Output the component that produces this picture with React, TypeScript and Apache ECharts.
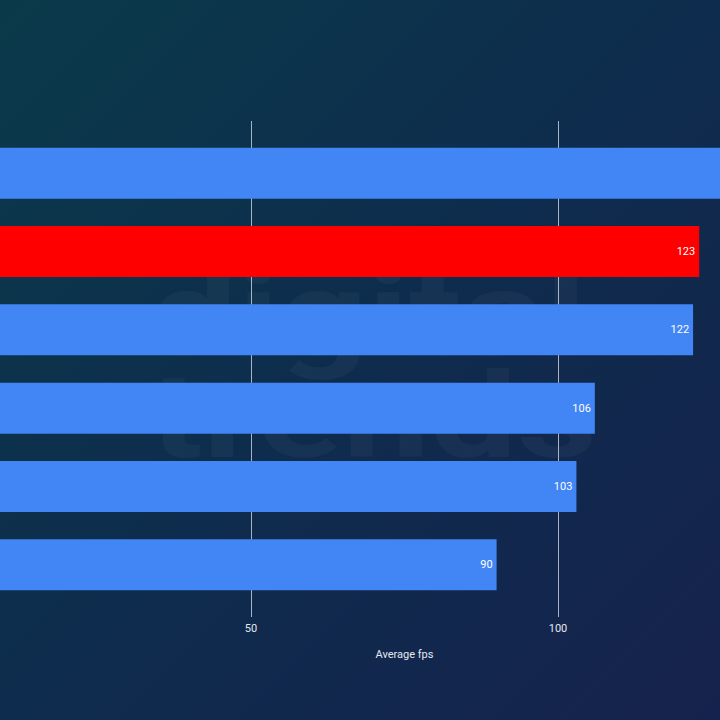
import React, { useEffect, useRef } from "react";
import * as echarts from "echarts";

const categories = ["Card 1", "Card 2", "Card 3", "Card 4", "Card 5", "Card 6"];
const values = [142, 123, 122, 106, 103, 90];
const highlightIndex = 1;
const xTicks = { min: 0, max: 150, interval: 50 };
const visibleTickLabels = [50, 100];
const axisName = "Average fps";
const watermarkLines = ["digital", "trends"];

export default function App() {
  const ref = useRef<HTMLDivElement>(null);
  useEffect(() => {
    const chart = echarts.init(ref.current!, null, { renderer: "svg" });
    const gridPos = { left: -56, width: 921, containLabel: false, outerBoundsMode: "none" };
    chart.setOption({
      animation: false,
      backgroundColor: "transparent",
      textStyle: { fontFamily: "Roboto, sans-serif" },
      grid: [
        { ...gridPos, top: 134, height: 470 },
        { ...gridPos, top: 121, height: 496 },
      ],
      xAxis: [
        { type: "value", gridIndex: 0, ...xTicks, show: false },
        {
          type: "value",
          gridIndex: 1,
          ...xTicks,
          axisLine: { show: false },
          axisTick: { show: false },
          splitLine: { show: true, lineStyle: { color: "rgba(220,225,235,0.75)", width: 1 } },
          axisLabel: {
            color: "#e4e8f0",
            fontSize: 11,
            margin: 6,
            formatter: (v: number) => (visibleTickLabels.includes(v) ? String(v) : ""),
          },
          name: axisName,
          nameLocation: "middle",
          nameGap: 32,
          nameTextStyle: { color: "#e4e8f0", fontSize: 11 },
        },
      ],
      yAxis: [
        { type: "category", gridIndex: 0, data: categories, inverse: true, show: false },
        { type: "value", gridIndex: 1, min: 0, max: 1, show: false, splitLine: { show: false } },
      ],
      graphic: watermarkLines.map((t, i) => ({
        type: "text",
        x: 150,
        y: 256 + i * 102,
        scaleX: 1.32,
        z: -1,
        silent: true,
        style: {
          text: t,
          fontSize: 118,
          fontWeight: "bold",
          fontFamily: "Roboto, sans-serif",
          fill: "rgba(255,255,255,0.035)",
          verticalAlign: "top",
        },
      })),
      series: [
        {
          type: "bar",
          xAxisIndex: 0,
          yAxisIndex: 0,
          barWidth: 51,
          data: values.map((v, i) => ({
            value: v,
            itemStyle: { color: i === highlightIndex ? "#ff0000" : "#4285f4" },
            label: { show: i !== 0 },
          })),
          label: {
            show: true,
            position: "insideRight",
            distance: 4,
            color: "#ffffff",
            fontSize: 11,
          },
        },
      ],
    });
    return () => chart.dispose();
  }, []);
  return (
    <div
      ref={ref}
      style={{
        position: "fixed",
        left: 0,
        top: 0,
        width: 720,
        height: 720,
        background: "linear-gradient(135deg, #0a3a4a 0%, #0e2c4d 50%, #16224d 100%)",
      }}
    />
  );
}
